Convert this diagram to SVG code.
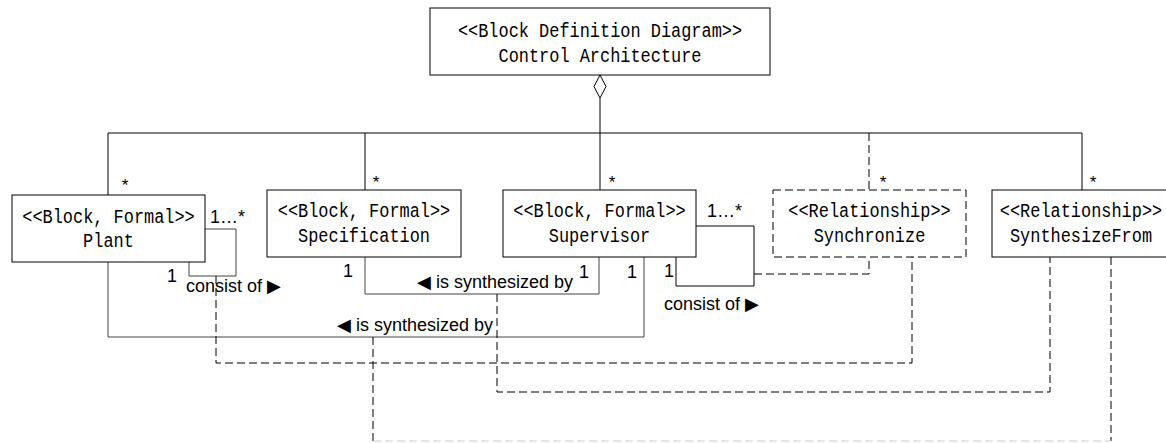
<svg xmlns="http://www.w3.org/2000/svg" width="1166" height="443" viewBox="0 0 1166 443">
<style>
.box{fill:#fff;stroke:#000;stroke-width:1}
.dbox{fill:#fff;stroke:#000;stroke-width:1;stroke-dasharray:8 4}
.bt{font-family:"Liberation Mono","DejaVu Sans Mono",monospace;font-size:20px;fill:#000;text-anchor:middle}
.ln{fill:none;stroke:#000;stroke-width:1}
.gl{fill:none;stroke:#444;stroke-width:1}
.dl{fill:none;stroke:#000;stroke-width:1;stroke-dasharray:8 4}
.lb{font-family:"Liberation Sans","DejaVu Sans",sans-serif;font-size:18px;fill:#000}
.st{font-family:"Liberation Mono","DejaVu Sans Mono",monospace;font-size:17px;fill:#000}
</style>
<rect width="1166" height="443" fill="#fff"/>
<g id="connectors">
<polyline class="ln" points="600,98 600,190"/>
<polyline class="ln" points="108,133 1082,133"/>
<polyline class="ln" points="108,133 108,195"/>
<polyline class="ln" points="365,133 365,190"/>
<polyline class="ln" points="1082,133 1082,190"/>
<polyline class="dl" points="869,133 869,190"/>
<polygon class="box" points="600,75 606,86.5 600,98 594,86.5"/>
<polyline class="gl" points="205,229 236,229 236,276 189,276 189,262"/>
<polyline class="gl" points="365,257 365,294 599,294 599,257"/>
<polyline class="gl" points="108,262 108,337 644,337 644,257"/>
<polyline class="ln" points="696,226 754,226 754,286 676,286 676,257"/>
<polyline class="dl" points="754,274 869,274 869,257"/>
<polyline class="dl" points="216,276 216,363 912,363 912,257"/>
<polyline class="dl" points="497,294 497,392 1050,392 1050,257"/>
<polyline class="dl" points="373,337 373,441"/>
<polyline class="dl" points="1111,257 1111,441"/>
<polyline class="dl" points="373,441 1111,441" style="stroke:#ccc"/>
<text class="st" x="120" y="191">*</text>
<text class="st" x="371" y="188">*</text>
<text class="st" x="607" y="188">*</text>
<text class="st" x="878" y="188">*</text>
<text class="st" x="1088" y="188">*</text>
<text class="lb" x="210" y="223">1…*</text>
<text class="lb" x="707" y="217">1…*</text>
<text class="lb" x="167" y="282">1</text>
<text class="lb" x="343" y="277">1</text>
<text class="lb" x="579" y="278">1</text>
<text class="lb" x="627" y="278">1</text>
<text class="lb" x="664" y="277">1</text>
<text class="lb" x="186" y="292">consist of ▶</text>
<text class="lb" x="664" y="310">consist of ▶</text>
<text class="lb" x="573" y="288" text-anchor="end">◀ is synthesized by</text>
<text class="lb" x="493" y="331" text-anchor="end">◀ is synthesized by</text>
</g>
<g id="control-architecture">
<rect class="box" x="430" y="8" width="340" height="67"/>
<text class="bt" transform="translate(600,37) scale(0.846,1)">&lt;&lt;Block Definition Diagram&gt;&gt;</text>
<text class="bt" transform="translate(600,62) scale(0.846,1)">Control Architecture</text>
</g>
<g id="plant">
<rect class="box" x="12" y="195" width="193" height="67"/>
<text class="bt" transform="translate(108.5,223) scale(0.846,1)">&lt;&lt;Block, Formal&gt;&gt;</text>
<text class="bt" transform="translate(108.5,247) scale(0.846,1)">Plant</text>
</g>
<g id="specification">
<rect class="box" x="267" y="190" width="194" height="67"/>
<text class="bt" transform="translate(364,217) scale(0.846,1)">&lt;&lt;Block, Formal&gt;&gt;</text>
<text class="bt" transform="translate(364,242) scale(0.846,1)">Specification</text>
</g>
<g id="supervisor">
<rect class="box" x="503" y="190" width="193" height="67"/>
<text class="bt" transform="translate(599.5,217) scale(0.846,1)">&lt;&lt;Block, Formal&gt;&gt;</text>
<text class="bt" transform="translate(599.5,242) scale(0.846,1)">Supervisor</text>
</g>
<g id="synchronize">
<rect class="dbox" x="773" y="190" width="193" height="67"/>
<text class="bt" transform="translate(869.5,217) scale(0.846,1)">&lt;&lt;Relationship&gt;&gt;</text>
<text class="bt" transform="translate(869.5,242) scale(0.846,1)">Synchronize</text>
</g>
<g id="synthesizefrom">
<rect class="box" x="992" y="190" width="180" height="67"/>
<text class="bt" transform="translate(1081,217) scale(0.846,1)">&lt;&lt;Relationship&gt;&gt;</text>
<text class="bt" transform="translate(1081,242) scale(0.846,1)">SynthesizeFrom</text>
</g>
</svg>
